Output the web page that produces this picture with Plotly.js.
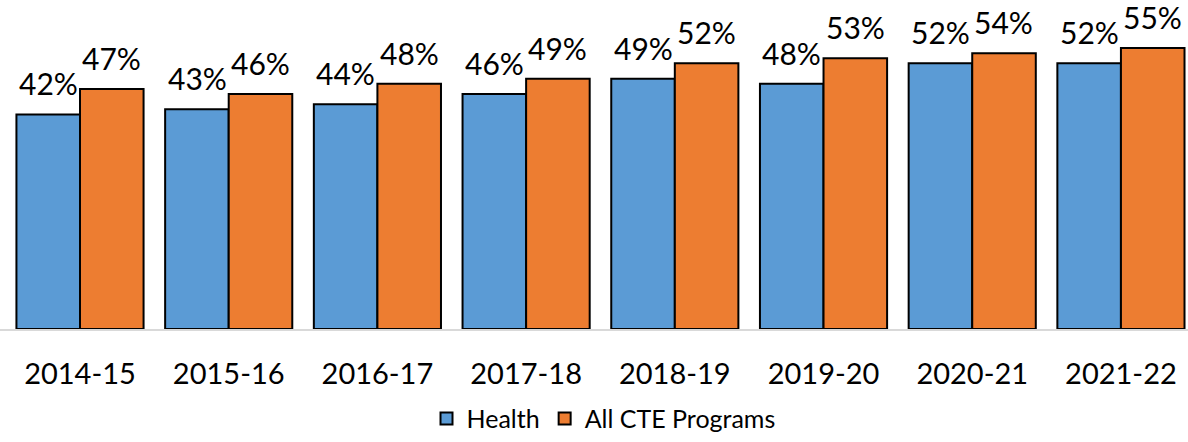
<!DOCTYPE html>
<html>
<head>
<meta charset="utf-8">
<script src="https://cdn.plot.ly/plotly-3.0.1.min.js"></script>
<style>html,body{margin:0;padding:0;background:#fff}#chart{width:1188px;height:442px}</style>
</head>
<body>
<div id="chart"></div>
<script>
const categories = ["2014-15","2015-16","2016-17","2017-18","2018-19","2019-20","2020-21","2021-22"];
const health = [42,43,44,46,49,48,52,52];
const allCTE = [47,46,48,49,52,53,54,55];
const seriesNames = ["Health","All CTE Programs"];

const FONT = "Lato, 'Noto Sans', sans-serif";
const mk = (name, vals, color) => ({
  type: "bar", name: name, x: categories, y: vals,
  marker: {color: color, line: {color: "#000", width: 2}},
  hoverinfo: "skip"
});

const data = [mk(seriesNames[0], health, "#5B9BD5"), mk(seriesNames[1], allCTE, "#ED7D31")];

const BAR_HALF = 31.7;
const annotations = [];
[health, allCTE].forEach((vals, s) => {
  vals.forEach((v, i) => {
    annotations.push({
      x: categories[i], y: v, xref: "x", yref: "y",
      text: v + "%", showarrow: false,
      xshift: s === 0 ? -BAR_HALF : BAR_HALF, yshift: 11,
      xanchor: "center", yanchor: "bottom",
      font: {family: FONT, size: 30, color: "#000"}
    });
  });
});

const layout = {
  width: 1188, height: 442,
  margin: {l: 0, r: 0, t: 0, b: 113},
  paper_bgcolor: "#fff", plot_bgcolor: "#fff",
  barmode: "group", bargap: 0.145, bargroupgap: 0,
  font: {family: FONT, color: "#000"},
  showlegend: true,
  annotations: annotations,
  legend: {orientation: "h", x: 0.508, xanchor: "center", y: -0.3425, yanchor: "bottom",
           font: {family: FONT, size: 25, color: "#000"}, traceorder: "normal"},
  xaxis: {type: "category", range: [-0.538, 7.451], showline: true, linecolor: "#D9D9D9", linewidth: 2,
          ticks: "", ticklabelstandoff: 18, tickfont: {family: FONT, size: 29, color: "#000"},
          showgrid: false, zeroline: false, automargin: false},
  yaxis: {range: [0, 64.4], visible: false, showgrid: false, zeroline: false}
};
Plotly.newPlot("chart", data, layout, {displayModeBar: false, staticPlot: true});
</script>
</body>
</html>
